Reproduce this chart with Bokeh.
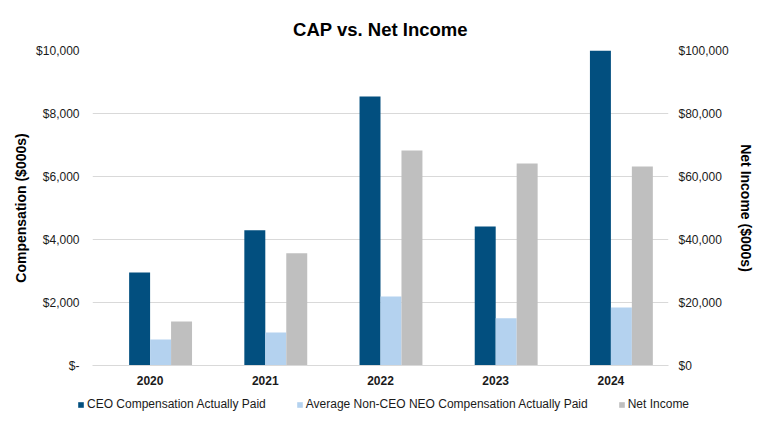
from bokeh.plotting import figure
from bokeh.models import (Range1d, LinearAxis, FixedTicker, NumeralTickFormatter,
                          FactorRange, Legend, LegendItem)
from bokeh.layouts import column, row
from bokeh.transform import dodge
from bokeh.embed import file_html
from bokeh.resources import INLINE

years = ["2020", "2021", "2022", "2023", "2024"]
ceo_cap = [2950, 4290, 8540, 4410, 10000]
neo_cap = [825, 1050, 2190, 1500, 1840]
net_income = [13970, 35660, 68250, 64130, 63170]

left_ticks = [0, 2000, 4000, 6000, 8000, 10000]
left_labels = ["$-", "$2,000", "$4,000", "$6,000", "$8,000", "$10,000"]
right_ticks = [0, 20000, 40000, 60000, 80000, 100000]

series_names = ["CEO Compensation Actually Paid",
                "Average Non-CEO NEO Compensation Actually Paid",
                "Net Income"]
colors = ["#024F7F", "#B4D2EF", "#BFBFBF"]

FONT = "Liberation Sans"
TXT = "#1a1a1a"

p = figure(width=760, height=390, x_range=FactorRange(factors=years),
           y_range=Range1d(0, 10000), output_backend="svg", toolbar_location=None,
           min_border_left=92, min_border_right=92, min_border_top=50,
           min_border_bottom=25)
p.extra_y_ranges = {"right": Range1d(0, 100000)}

p.title.text = "CAP vs. Net Income"
p.title.align = "center"
p.title.text_font = FONT
p.title.text_font_size = "18.5px"
p.title.text_font_style = "bold"
p.title.text_color = "#000000"
p.title.standoff = 22

bw = 0.182
shift = 0.091
src = dict(x=years, ceo=ceo_cap, neo=neo_cap, ni=net_income)
r1 = p.vbar(x=dodge("x", -shift, range=p.x_range), top="ceo", width=bw, source=src,
            color=colors[0], line_color=None)
r2 = p.vbar(x=dodge("x", shift, range=p.x_range), top="neo", width=bw, source=src,
            color=colors[1], line_color=None)
r3 = p.vbar(x=dodge("x", shift + bw, range=p.x_range), top="ni", width=bw, source=src,
            color=colors[2], line_color=None, y_range_name="right")

# left axis
ya = p.yaxis[0]
ya.ticker = FixedTicker(ticks=left_ticks)
ya.major_label_overrides = {t: l for t, l in zip(left_ticks, left_labels)}
ya.axis_label = "Compensation ($000s)"

ra = LinearAxis(y_range_name="right", ticker=FixedTicker(ticks=right_ticks),
                formatter=NumeralTickFormatter(format="$0,0"),
                axis_label="Net Income ($000s)")
p.add_layout(ra, "right")

xa = p.xaxis[0]
for ax in (ya, ra, xa):
    ax.axis_line_color = None
    ax.major_tick_line_color = None
    ax.minor_tick_line_color = None
    ax.major_tick_out = 0
    ax.major_tick_in = 0
    ax.minor_tick_out = 0
    ax.major_label_text_font = FONT
    ax.major_label_text_font_size = "12px"
    ax.major_label_text_color = TXT
    ax.axis_label_text_font = FONT
    ax.axis_label_text_font_size = "14px"
    ax.axis_label_text_font_style = "bold"
    ax.axis_label_text_color = "#000000"
ya.major_label_standoff = 13
ya.axis_label_standoff = 4
ra.major_label_standoff = 10
ra.axis_label_standoff = 6

xa.axis_line_color = "#d9d9d9"
xa.major_label_text_font_style = "bold"
xa.major_label_standoff = 10

p.xgrid.grid_line_color = None
p.ygrid.grid_line_color = "#d9d9d9"
p.ygrid[0].ticker = FixedTicker(ticks=left_ticks)
p.outline_line_color = None

# legend strip: separate figure whose (hidden) renderers carry the series styles
lg = figure(width=760, height=32, x_range=FactorRange(factors=years),
            y_range=Range1d(-2, -1), output_backend="svg", toolbar_location=None,
            x_axis_type=None, y_axis_type=None, min_border=0,
            min_border_left=0, min_border_right=0, min_border_top=0,
            min_border_bottom=0)
lg.grid.grid_line_color = None
lg.outline_line_color = None
hidden = [lg.vbar(x="x", top=k, width=bw, source=src, color=c, line_color=None,
                  visible=False)
          for k, c in zip(["ceo", "neo", "ni"], colors)]
legend = Legend(items=[LegendItem(label=n, renderers=[d]) for n, d in zip(series_names, hidden)],
                orientation="horizontal", location=(77, 11))
legend.label_text_font = FONT
legend.label_text_font_size = "12px"
legend.label_text_color = TXT
legend.glyph_width = 7
legend.glyph_height = 7
legend.label_standoff = 3
legend.spacing = 30
legend.padding = 0
legend.margin = 0
legend.border_line_color = None
legend.background_fill_alpha = 0
legend.label_height = 12
lg.add_layout(legend, "center")

layout = column(p, row(lg), spacing=0)
open("out.html", "w").write(file_html(layout, INLINE))
